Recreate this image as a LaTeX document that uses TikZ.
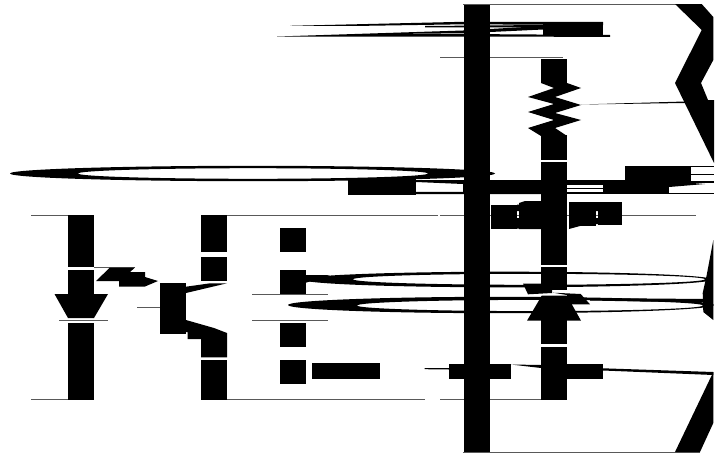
\documentclass[tikz,border=0pt]{standalone}
\tikzset{
  ink/.style={fill=black,draw=none},
  hair/.style={draw=black!65,line width=0.8pt},
  slit/.style={fill=white,draw=none}
}
\begin{document}
\begin{tikzpicture}[x=1pt,y=-1pt]
\useasboundingbox (0,0) rectangle (722,455);
\fill[white] (0,0) rectangle (722,455);
% thin rails
\draw[hair] (31,215) -- (68,215) (227,215) -- (438,215) (440,215) -- (696,215);
\draw[hair] (31,399.5) -- (68,399.5) (227,399.5) -- (425,399.5) (440,399.5) -- (541,399.5);
\draw[hair] (440,57) -- (563,57);
\draw[hair] (463,4.5) -- (702,4.5) (463,452) -- (700,452);
\draw[hair] (94,267.5) -- (135,267.5) (137,307) -- (160,307);
\draw[hair] (252,294) -- (328,294) (252,320.5) -- (328,320.5) (59,320.5) -- (108,320.5);
% big flattened rings
\fill[ink,even odd rule] (252.5,173.5) ellipse [x radius=242.5pt,y radius=7.7pt] (253,173.5) ellipse [x radius=175pt,y radius=5.3pt];
\fill[ink,even odd rule] (507,279.5) ellipse [x radius=205pt,y radius=7.8pt] (529,279.3) ellipse [x radius=176pt,y radius=5.5pt];
\fill[ink,even odd rule] (501,305) ellipse [x radius=213pt,y radius=8.2pt] (530,305.5) ellipse [x radius=173pt,y radius=5.6pt];
\fill[ink] (590,298) -- (705,299) -- (705,302) -- (640,301.5) -- (590,300.5) -- cycle;
\fill[ink] (305,275) -- (330,275) -- (305,283) -- cycle;
% upper spikes
\fill[ink] (290,25.8) -- (463,21.8) -- (603,22) -- (603,25) -- (463,24.3) -- (353,26) -- cycle;
\fill[ink] (425,26) -- (543,25) -- (543,27.5) -- (425,27.4) -- cycle;
\fill[ink] (277,36.5) -- (463,30.5) -- (543,26) -- (543,29.5) -- (463,33.3) -- (363,34.2) -- (463,34) -- (610,35) -- (610,36.8) -- cycle;
\fill[ink] (543,22) rectangle (603,36);
% left column
\fill[ink] (68,215) rectangle (94,267.2);
\fill[ink] (68,270) rectangle (94,295);
\fill[ink] (54.5,294) -- (108,294) -- (94,318) -- (68,318) -- cycle;
\fill[ink] (68,322.5) rectangle (94,399.5);
% bolt
\fill[ink] (96,281) -- (110,267.5) -- (135,267.5) -- (130,272) -- (145,272) -- (145,277) -- (158,281) -- (145,286.5) -- (119,286.5) -- (119,281) -- cycle;
% transistor
\fill[ink] (160,283) rectangle (186,334);
\fill[ink] (201,215) rectangle (227,252);
\fill[ink] (201,257) rectangle (227,281);
\fill[ink] (186,286.7) -- (210,283.3) -- (227,283.3) -- (186,293) -- cycle;
\fill[ink] (186,320) -- (214,328) -- (227,333) -- (227,357.3) -- (201,357.3) -- (201,339) -- (187.7,339) -- (187.7,332) -- (186,332) -- cycle;
\fill[ink] (201,360) rectangle (227,399.5);
% squares
\fill[ink] (279.5,228) rectangle (305.5,252);
\fill[ink] (279.5,270) rectangle (305.5,294);
\fill[ink] (279.5,322.5) rectangle (305.5,347);
\fill[ink] (279.5,359.5) rectangle (305.5,384);
\fill[ink] (312,363) rectangle (380,379);
\fill[ink] (348,179) rectangle (416,195);
% right-hand band
\fill[ink] (416,180) -- (541,180) -- (541,194) -- (416,194) -- (416,191.8) -- (463,191.8) -- (463,184) -- (416,182) -- cycle;
\fill[ink] (567,180) rectangle (603,185);
\fill[ink] (567,187.8) rectangle (603,189.2);
\fill[ink] (567,192) rectangle (603,194);
\fill[ink] (603,180) rectangle (669,194);
\fill[ink] (625,166) rectangle (691,181);
\fill[ink] (669,180.5) rectangle (714,183);
\fill[ink] (669,181) -- (705,184) -- (669,187) -- cycle;
\fill[ink] (669,192.8) rectangle (714,194);
\fill[ink] (691,165.8) rectangle (714,167);
\fill[ink] (691,173.5) rectangle (714,175.2);
% right column
\fill[ink] (541,59) rectangle (567,83);
\fill[ink] (541,83) -- (567,83) -- (581,88) -- (555,97) -- (581,105) -- (555,113) -- (581,120) -- (555,128) -- (567,136) -- (541,136) -- (528,128) -- (554,120) -- (528,112) -- (554,104) -- (528,97) -- (554,88) -- cycle;
\fill[ink] (541,135) rectangle (567,160);
\fill[ink] (541,162) rectangle (567,265);
\fill[ink] (541,267.3) rectangle (567,290);
\fill[ink] (523,283.7) -- (552,283.7) -- (552,293) -- (528,294.3) -- cycle;
\fill[ink] (553,292.7) -- (580.7,294) -- (590,304.3) -- (567,304.3) -- (567,295) -- cycle;
\fill[ink] (541.7,295.7) -- (567,295.7) -- (581,320.7) -- (527,320.7) -- cycle;
\fill[ink] (541,320) rectangle (567,344.3);
\fill[ink] (541,346.7) rectangle (567,399.5);
% cross pieces
\fill[ink] (491,204.5) rectangle (517,228.5);
\fill[ink] (519,203) -- (525,201) -- (541,201) -- (541,229) -- (519,229) -- cycle;
\fill[ink] (517,204.5) rectangle (519,211) (517,218) rectangle (519,228.5);
\fill[ink] (569,202) rectangle (596,226);
\fill[ink] (569,226) -- (580,226) -- (569,229) -- cycle;
\fill[ink] (598,201.5) rectangle (622,225);
\fill[ink] (596,202) rectangle (598,211) (596,218) rectangle (598,224);
\fill[ink] (449,364) rectangle (511,379);
\fill[ink] (567,364) rectangle (603,379);
\fill[ink] (424.7,368.2) -- (449,368) -- (449,369.5) -- (424.7,369.2) -- cycle;
\fill[ink] (511,364.5) -- (541,365) -- (541,368) -- cycle;
\fill[ink] (603,368.3) -- (713.3,372) -- (713.3,375) -- (603,370.5) -- cycle;
% tall bar
\fill[ink] (463.5,4.5) rectangle (489.5,452);
% chevrons at the right
\fill[ink] (675,4) -- (701.7,4) -- (713.3,17) -- (713.3,60) -- (701,83) -- (708,100) -- (714,100) -- (714,163) -- (675,83) -- (701.7,30) -- cycle;
\fill[ink] (581,104.5) -- (685,101.5) -- (685,103) -- cycle;
\fill[ink] (713.3,240) -- (713.3,320) -- (703.3,312) -- (702.7,293) -- (706.7,275) -- cycle;
\fill[ink] (713.3,372) -- (713.3,423) -- (700,452) -- (675,452) -- cycle;
\end{tikzpicture}
\end{document}
